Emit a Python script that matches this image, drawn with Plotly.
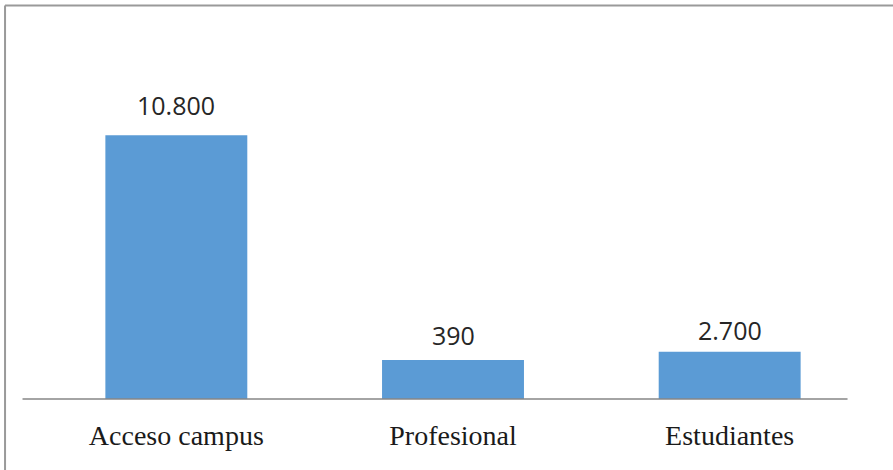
import plotly.graph_objects as go

categories = ["Acceso campus", "Profesional", "Estudiantes"]
value_labels = ["10.800", "390", "2.700"]
# bar heights as drawn in the picture (axis units, read from pixel heights)
bar_heights = [10800, 1600, 1930]
label_offsets = [11, 6, 3]

BLUE = "#5B9BD5"

fig = go.Figure()
fig.add_trace(go.Bar(
    x=categories, y=bar_heights, marker=dict(color=BLUE, line=dict(width=0)),
    width=0.513, hoverinfo="skip", showlegend=False,
))

for c, h, t, off in zip(categories, bar_heights, value_labels, label_offsets):
    fig.add_annotation(x=c, y=h, text=t, showarrow=False, yanchor="bottom",
                       yshift=off, font=dict(family="Open Sans", size=25, color="#262626"))

L, R, T, B = 37.5, 893 - 868.5, 40, 71
PW = 893 - L - R
PH = 470 - T - B

def px_x(p):
    return (p - L) / PW

def px_y(p):
    return (470 - B - p) / PH

# category axis line
fig.add_shape(type="line", xref="paper", yref="paper", x0=px_x(22), x1=px_x(848),
              y0=0, y1=0, line=dict(color="#868686", width=1.5))
# outer frame (left and top edges visible)
fig.add_shape(type="line", xref="paper", yref="paper", x0=px_x(4.5), x1=px_x(4.5),
              y0=px_y(475), y1=px_y(5.5), line=dict(color="#9a9a9a", width=2))
fig.add_shape(type="line", xref="paper", yref="paper", x0=px_x(4.5), x1=px_x(900),
              y0=px_y(5.5), y1=px_y(5.5), line=dict(color="#9a9a9a", width=2))

fig.update_layout(
    width=893, height=470,
    margin=dict(l=L, r=R, t=T, b=B),
    paper_bgcolor="white", plot_bgcolor="white",
    xaxis=dict(showline=False, ticks="", showgrid=False, zeroline=False,
               tickfont=dict(family="Liberation Serif", size=28, color="#1a1a1a"),
               ticklabelstandoff=17),
    yaxis=dict(range=[0, 14700], visible=False, showgrid=False, zeroline=False),
)

fig.write_html("out.html", config={"displayModeBar": False},
               post_script="document.body.style.margin='0';")
